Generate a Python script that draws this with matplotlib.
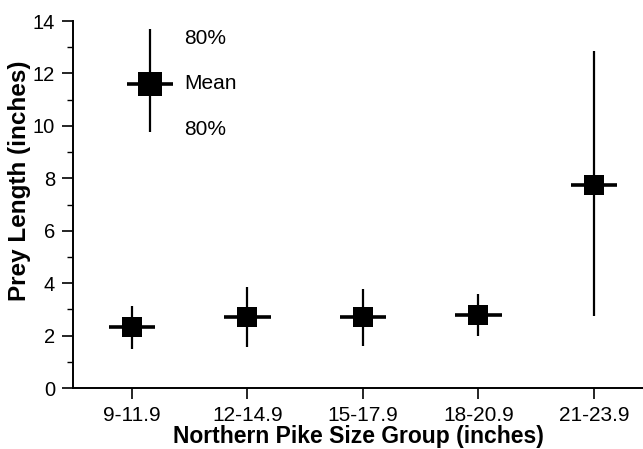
import matplotlib
matplotlib.use("Agg")
import matplotlib.pyplot as plt
from matplotlib.ticker import MultipleLocator

groups = ["9-11.9", "12-14.9", "15-17.9", "18-20.9", "21-23.9"]
mean_len = [2.31, 2.70, 2.70, 2.79, 7.76]
low_80 = [1.49, 1.57, 1.60, 2.00, 2.74]
high_80 = [3.13, 3.85, 3.78, 3.57, 12.86]

# legend key drawn inside the plot
key_x = 0.16
key_mean = 11.6
key_low = 9.75
key_high = 13.7

plt.rcParams["font.family"] = ["Liberation Sans", "DejaVu Sans"]

fig = plt.figure(figsize=(6.43, 4.49), dpi=100)
ax = fig.add_axes([73 / 643, 1 - 388 / 449, 570 / 643, 367 / 449])

xs = list(range(len(groups)))
for x, m, lo, hi in zip(xs, mean_len, low_80, high_80):
    ax.plot([x, x], [lo, hi], color="black", lw=1.6, solid_capstyle="butt", zorder=2)
    ax.plot([x - 0.2, x + 0.2], [m, m], color="black", lw=2.6, solid_capstyle="butt", zorder=2)
ax.scatter(xs, mean_len, marker="s", s=215, color="black", zorder=3, linewidths=0)

# key
ax.plot([key_x, key_x], [key_low, key_high], color="black", lw=1.6, solid_capstyle="butt")
ax.plot([key_x - 0.2, key_x + 0.2], [key_mean, key_mean], color="black", lw=2.6, solid_capstyle="butt")
ax.scatter([key_x], [key_mean], marker="s", s=280, color="black", zorder=3, linewidths=0)
ax.text(key_x + 0.29, 13.35, "80%", fontsize=15, va="center", ha="left")
ax.text(key_x + 0.29, key_mean, "Mean", fontsize=15, va="center", ha="left")
ax.text(key_x + 0.29, 9.85, "80%", fontsize=15, va="center", ha="left")

ax.set_xlim(-0.51, -0.51 + 570 / 115.5)
ax.set_ylim(0, 14)
ax.set_xticks(xs)
ax.set_xticklabels(groups)
ax.yaxis.set_major_locator(MultipleLocator(2))
ax.yaxis.set_minor_locator(MultipleLocator(1))
ax.tick_params(axis="both", which="major", length=8, width=1.2, direction="out")
ax.tick_params(axis="x", labelsize=15, pad=5)
ax.tick_params(axis="y", labelsize=14.5, pad=5)
ax.tick_params(axis="y", which="minor", length=4, width=1.0)
ax.spines["top"].set_visible(False)
ax.spines["right"].set_visible(False)
ax.spines["left"].set_linewidth(1.4)
ax.spines["bottom"].set_linewidth(1.4)

ax.set_xlabel("Northern Pike Size Group (inches)", fontsize=16.5, fontweight="bold", labelpad=0)
ax.set_ylabel("Prey Length (inches)", fontsize=17.5, fontweight="bold")
ax.yaxis.set_label_coords(-0.074, 0.564)

fig.savefig("out.png", dpi=100)
